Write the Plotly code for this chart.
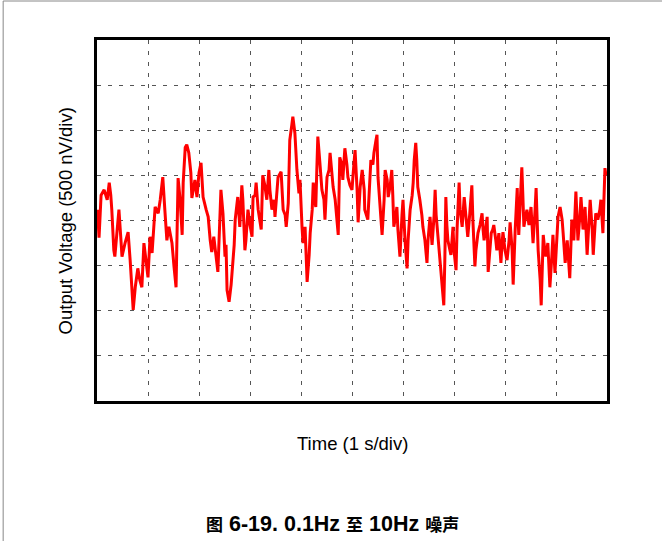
import plotly.graph_objects as go

# Time axis in seconds (1 s/div), voltage in nV (500 nV/div)
time_s = [
    0.01, 0.04, 0.08, 0.14, 0.20, 0.24, 0.27, 0.29, 0.33, 0.35, 0.39, 0.43, 0.47, 0.49, 0.55, 0.61,
    0.65, 0.69, 0.71, 0.75, 0.80, 0.84, 0.88, 0.92, 0.98, 1.00, 1.04, 1.08, 1.14, 1.20, 1.24, 1.29,
    1.33, 1.37, 1.41, 1.47, 1.51, 1.55, 1.59, 1.63, 1.67, 1.69, 1.73, 1.76, 1.80, 1.84, 1.86, 1.92,
    1.96, 2.00, 2.04, 2.08, 2.14, 2.18, 2.22, 2.25, 2.29, 2.33, 2.37, 2.43, 2.47, 2.51, 2.53, 2.55,
    2.59, 2.63, 2.65, 2.69, 2.71, 2.75, 2.76, 2.80, 2.82, 2.84, 2.86, 2.90, 2.92, 2.96, 3.00, 3.04,
    3.06, 3.10, 3.12, 3.16, 3.22, 3.24, 3.25, 3.29, 3.33, 3.37, 3.39, 3.43, 3.47, 3.49, 3.53, 3.55,
    3.61, 3.63, 3.65, 3.69, 3.71, 3.75, 3.76, 3.78, 3.82, 3.84, 3.88, 3.90, 3.92, 3.96, 3.98, 4.02,
    4.04, 4.08, 4.10, 4.12, 4.16, 4.18, 4.22, 4.24, 4.27, 4.29, 4.31, 4.33, 4.37, 4.41, 4.45, 4.47,
    4.51, 4.55, 4.57, 4.61, 4.63, 4.67, 4.69, 4.73, 4.76, 4.80, 4.82, 4.86, 4.90, 4.92, 4.96, 5.00,
    5.02, 5.06, 5.10, 5.12, 5.16, 5.20, 5.24, 5.25, 5.31, 5.33, 5.37, 5.41, 5.43, 5.47, 5.49, 5.51,
    5.55, 5.59, 5.63, 5.65, 5.69, 5.71, 5.75, 5.78, 5.80, 5.82, 5.86, 5.88, 5.90, 5.94, 5.98, 6.00,
    6.04, 6.08, 6.10, 6.14, 6.18, 6.20, 6.22, 6.25, 6.27, 6.29, 6.33, 6.35, 6.37, 6.39, 6.43, 6.47,
    6.49, 6.53, 6.55, 6.57, 6.61, 6.63, 6.65, 6.69, 6.73, 6.76, 6.78, 6.80, 6.82, 6.84, 6.86, 6.88,
    6.92, 6.94, 6.98, 7.00, 7.04, 7.06, 7.10, 7.12, 7.16, 7.20, 7.24, 7.27, 7.31, 7.35, 7.37, 7.41,
    7.43, 7.47, 7.51, 7.55, 7.57, 7.59, 7.63, 7.65, 7.67, 7.71, 7.73, 7.76, 7.78, 7.82, 7.84, 7.88,
    7.90, 7.92, 7.94, 7.96, 8.00, 8.04, 8.08, 8.10, 8.14, 8.16, 8.20, 8.24, 8.25, 8.27, 8.31, 8.33,
    8.35, 8.37, 8.41, 8.43, 8.47, 8.51, 8.53, 8.55, 8.59, 8.61, 8.63, 8.65, 8.69, 8.71, 8.73, 8.75,
    8.78, 8.80, 8.84, 8.86, 8.88, 8.92, 8.94, 8.98, 9.02, 9.04, 9.08, 9.12, 9.14, 9.18, 9.22, 9.25,
    9.27, 9.31, 9.35, 9.39, 9.43, 9.47, 9.49, 9.53, 9.57, 9.61, 9.65, 9.67, 9.71, 9.73, 9.76, 9.78,
    9.82, 9.86, 9.88, 9.92, 9.94, 9.96, 9.98,
]

voltage_nv = [
    120, -190, 280, 340, 230, 420, 280, 120, -330, -400, -140, 120, -220, -400, -250, -130,
    -440, -850, -990, -740, -530, -660, -740, -250, -510, -630, -180, -360, 150, 80, 230, 480,
    120, -220, -70, -250, -510, -740, 470, 230, -160, 420, 810, 840, 750, 530, 250, 450,
    260, 530, 640, 260, 120, 40, -220, -350, -180, -360, -570, 340, 80, -400, -270, -770,
    -900, -710, -580, -270, 10, 170, 260, -70, 120, 390, 230, -330, -220, 120, -50, -180,
    260, 280, 420, 120, -100, 230, 500, 390, 230, 560, 340, 120, 230, 40, 340, 480,
    540, 340, 120, 60, -70, 190, 560, 890, 1060, 1150, 970, 670, 560, 300, 450, -70,
    -250, -70, -380, -680, -380, -140, 120, 420, 230, 150, 560, 930, 640, 340, 230, 10,
    480, 560, 750, 500, 370, 230, 60, -160, 700, 620, 450, 800, 620, 480, 390, 340,
    500, 780, 340, -20, 370, 560, 340, 120, 10, 230, 670, 620, 750, 890, 950, 480,
    120, -160, 230, 560, 450, 260, 390, 560, 280, -70, 60, 150, -100, -400, 60, 230,
    -220, -530, -220, 120, 280, 420, 670, 860, 670, 370, 230, 150, 60, -70, -220, -470,
    -220, 40, -100, -270, 60, 340, 60, -220, -440, -660, -830, -940, -440, 260, -50, -220,
    -330, -380, -70, -330, -550, -100, 420, 120, -70, 260, 10, -180, 80, 390, 10, -510,
    -330, -140, -50, 80, -100, -220, -50, 40, -570, -270, -140, -100, -50, -220, -330, -140,
    -270, -470, -270, -130, -330, -440, -220, -20, -330, -710, -100, 360, 120, -160, 340, 590,
    280, -70, 60, 120, -50, 150, -50, -250, 120, 360, 10, -330, -660, -940, -550, -160,
    -330, -400, -250, -490, -740, -380, -160, -580, -160, 40, 150, 10, -140, -470, -220, -440,
    -640, 10, -220, 320, -220, 60, 260, -100, 150, -380, -50, 230, -100, -380, -100, 80,
    10, 120, 230, -140, 230, 580, 500,
]

x_title = "Time (1 s/div)"
y_title = "Output Voltage (500 nV/div)"
caption_parts = ["图", " 6-19. 0.1Hz ", "至", " 10Hz ", "噪声"]

cjk = '<span style="font-size:17px">{}</span>'
caption_html = "<b>" + "".join(
    cjk.format(p) if i % 2 == 0 else p for i, p in enumerate(caption_parts)
) + "</b>"

fig = go.Figure()
fig.add_trace(go.Scatter(
    x=time_s, y=voltage_nv, mode="lines",
    line=dict(color="#ff0000", width=3),
    hoverinfo="skip", showlegend=False,
))

axis_common = dict(
    showgrid=True, gridcolor="#555555", gridwidth=1, griddash="4px,7px",
    showticklabels=False, ticks="", zeroline=False,
    showline=True, linecolor="#000000", linewidth=3, mirror=True,
    fixedrange=True,
)

fig.update_layout(
    width=662, height=541,
    paper_bgcolor="white", plot_bgcolor="white",
    margin=dict(l=97, r=55, t=40, b=140),
    xaxis=dict(range=[0, 10], dtick=1, **axis_common),
    yaxis=dict(range=[-2000, 2000], dtick=500, **axis_common),
    font=dict(family="Liberation Sans, Arial, Noto Sans CJK SC", color="#000000"),
    annotations=[
        dict(text=x_title, x=0.5, y=-0.119, xref="paper", yref="paper",
             showarrow=False, font=dict(size=18.5), xanchor="center", yanchor="middle"),
        dict(text=y_title, x=-0.061, y=0.5, xref="paper", yref="paper",
             showarrow=False, font=dict(size=18.5), textangle=-90,
             xanchor="center", yanchor="middle"),
        dict(text=caption_html, x=0.462, y=-0.341, xref="paper", yref="paper",
             showarrow=False,
             font=dict(size=21.5, family="Liberation Sans, Arial, Noto Sans CJK SC"),
             xanchor="center", yanchor="middle"),
    ],
    shapes=[
        dict(type="line", xref="paper", yref="paper", x0=-0.184, x1=1.2, y0=1.108, y1=1.108,
             line=dict(color="#888888", width=1)),
        dict(type="line", xref="paper", yref="paper", x0=-0.184, x1=-0.184, y0=-0.39, y1=1.108,
             line=dict(color="#888888", width=1)),
    ],
)

fig.write_html("out.html", config={"displayModeBar": False},
               post_script="document.body.style.margin='0';")
